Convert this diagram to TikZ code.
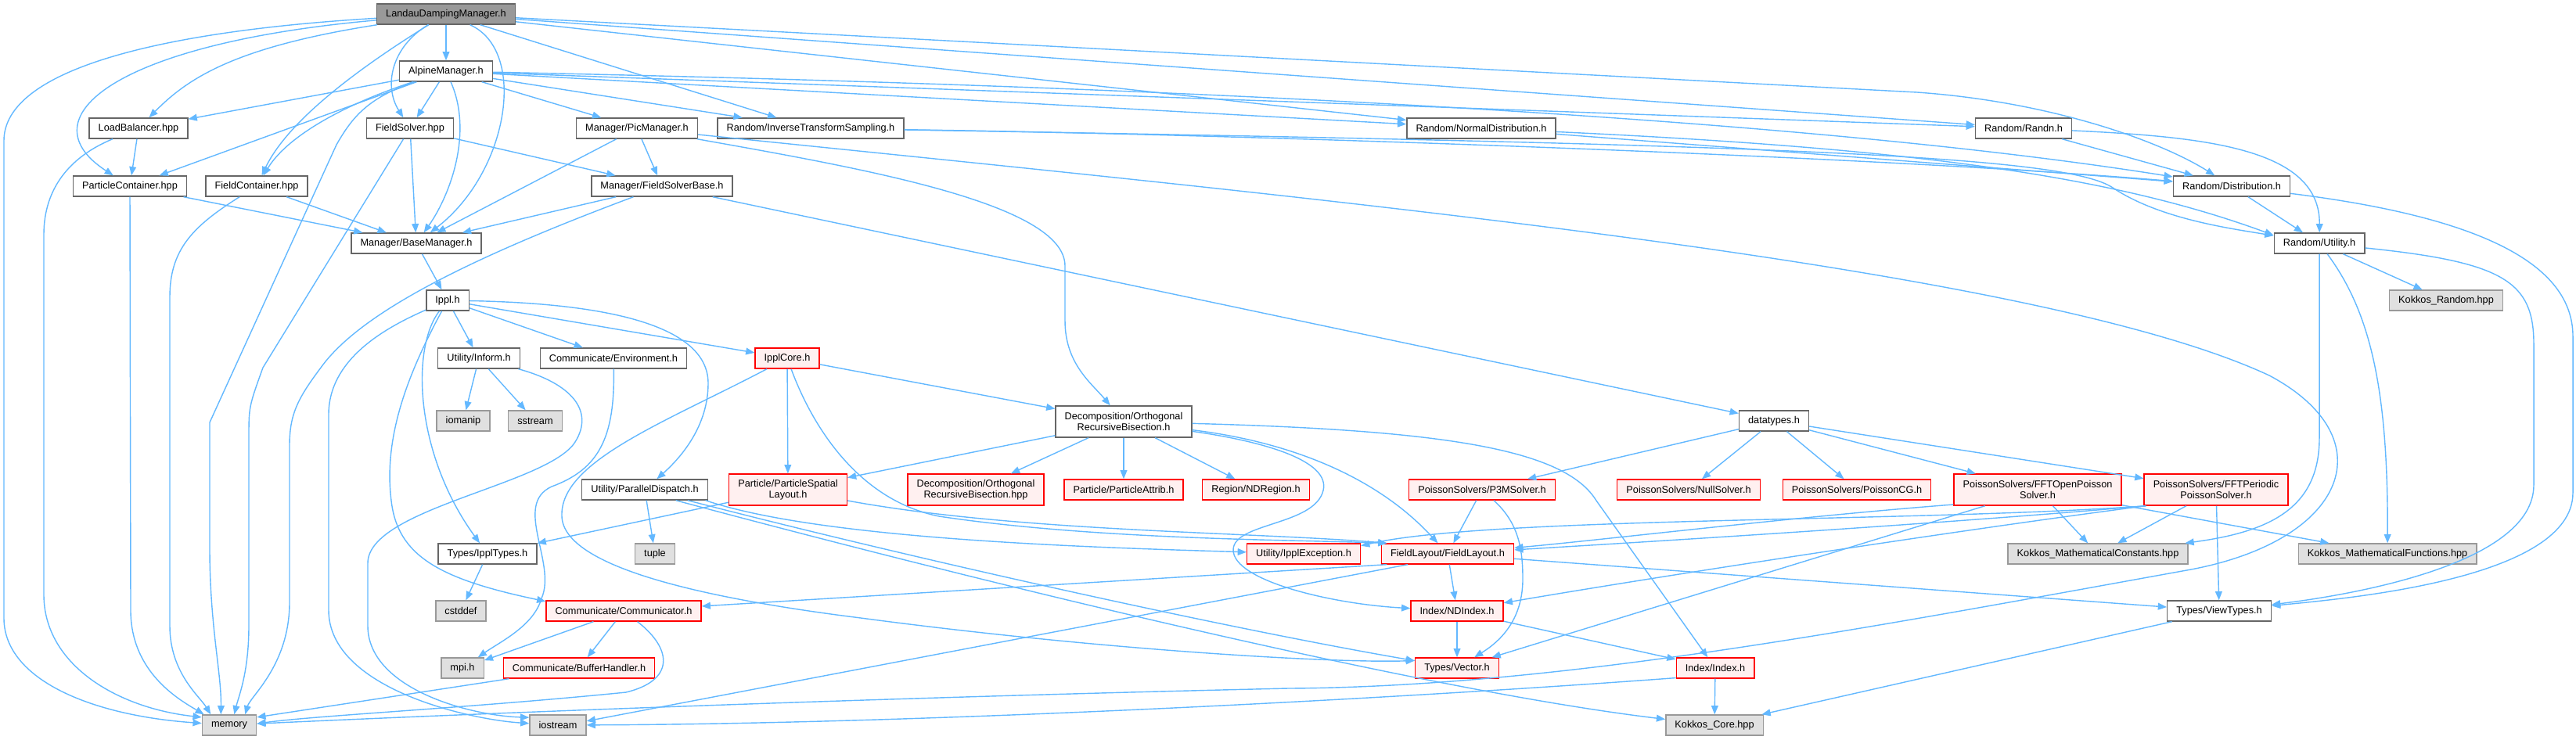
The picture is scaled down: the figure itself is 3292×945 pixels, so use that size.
\documentclass[tikz,border=0pt]{standalone}
\usepackage{fontspec}
\setmainfont{Liberation Sans}
\usetikzlibrary{arrows.meta}

\definecolor{edgeblue}{HTML}{63B8FF}
\definecolor{boxline}{HTML}{666666}
\definecolor{sysline}{HTML}{999999}
\definecolor{sysfill}{HTML}{E0E0E0}
\definecolor{rootfill}{HTML}{999999}
\definecolor{truncfill}{HTML}{FFF0F0}

\tikzset{
  hfile/.style={draw=boxline, fill=white, line width=0.38pt, minimum height=0.26cm,
    inner xsep=3.3pt, inner ysep=0pt, align=center, font=\fontsize{3.62}{4.1}\selectfont},
  rootfile/.style={hfile, fill=rootfill},
  sysfile/.style={hfile, draw=sysline, fill=sysfill},
  truncfile/.style={hfile, draw=red, fill=truncfill},
  twoline/.style={minimum height=0.40cm},
  dep/.style={draw=edgeblue, line width=0.4pt, -{Triangle[length=3.2pt,width=2.5pt]}},
}

\begin{document}
\begin{tikzpicture}[x=0.01cm, y=-0.01cm]
  \useasboundingbox (0,0) rectangle (3292,945);

  % Header files, row by row
  \node[rootfile] (landau) at (570,18) {LandauDampingManager.h};
  \node[hfile] (alpine) at (570,91) {AlpineManager.h};

  \node[hfile] (lbal) at (177,164) {LoadBalancer.hpp};
  \node[hfile] (fsolver) at (524,164) {FieldSolver.hpp};
  \node[hfile] (picmgr) at (814,164) {Manager/PicManager.h};
  \node[hfile] (itsamp) at (1036,164) {Random/InverseTransformSampling.h};
  \node[hfile] (normdist) at (1893,164) {Random/NormalDistribution.h};
  \node[hfile] (randn) at (2586,164) {Random/Randn.h};

  \node[hfile] (pcont) at (166,238) {ParticleContainer.hpp};
  \node[hfile] (fcont) at (328,238) {FieldContainer.hpp};
  \node[hfile] (fsbase) at (846,238) {Manager/FieldSolverBase.h};
  \node[hfile] (distrib) at (2852,238) {Random/Distribution.h};

  \node[hfile] (basemgr) at (532,311) {Manager/BaseManager.h};
  \node[hfile] (rutil) at (2964,311) {Random/Utility.h};

  \node[hfile] (ippl) at (572,384) {Ippl.h};
  \node[sysfile] (krandom) at (3126,384) {Kokkos\_Random.hpp};

  \node[hfile] (inform) at (612,458) {Utility/Inform.h};
  \node[hfile] (environ) at (784,458) {Communicate/Environment.h};
  \node[truncfile] (core) at (1006,458) {IpplCore.h};

  \node[sysfile] (iomanip) at (592,538) {iomanip};
  \node[sysfile] (sstream) at (684,538) {sstream};
  \node[hfile, twoline] (orbh) at (1436,539) {Decomposition/Orthogonal\\RecursiveBisection.h};
  \node[hfile] (datatypes) at (2267,538) {datatypes.h};

  \node[hfile] (pardisp) at (824,626) {Utility/ParallelDispatch.h};
  \node[truncfile, twoline] (pslayout) at (1007,626) {Particle/ParticleSpatial\\Layout.h};
  \node[truncfile, twoline] (orbhpp) at (1247,626) {Decomposition/Orthogonal\\RecursiveBisection.hpp};
  \node[truncfile] (pattrib) at (1436,626) {Particle/ParticleAttrib.h};
  \node[truncfile] (ndregion) at (1605,626) {Region/NDRegion.h};
  \node[truncfile] (p3m) at (1894,626) {PoissonSolvers/P3MSolver.h};
  \node[truncfile] (nullsolver) at (2158,626) {PoissonSolvers/NullSolver.h};
  \node[truncfile] (poissoncg) at (2373,626) {PoissonSolvers/PoissonCG.h};
  \node[truncfile, twoline] (fftopen) at (2604,626) {PoissonSolvers/FFTOpenPoisson\\Solver.h};
  \node[truncfile, twoline] (fftper) at (2832,626) {PoissonSolvers/FFTPeriodic\\PoissonSolver.h};

  \node[hfile] (ippltypes) at (623,708) {Types/IpplTypes.h};
  \node[sysfile] (tuple) at (837,708) {tuple};
  \node[truncfile] (ipplexc) at (1666,708) {Utility/IpplException.h};
  \node[truncfile] (flayout) at (1850,708) {FieldLayout/FieldLayout.h};
  \node[sysfile] (mconst) at (2681,708) {Kokkos\_MathematicalConstants.hpp};
  \node[sysfile] (mfunc) at (3051,708) {Kokkos\_MathematicalFunctions.hpp};

  \node[sysfile] (cstddef) at (589,781) {cstddef};
  \node[truncfile] (comm) at (797,781) {Communicate/Communicator.h};
  \node[truncfile] (ndindex) at (1862,781) {Index/NDIndex.h};
  \node[hfile] (viewtypes) at (2836,781) {Types/ViewTypes.h};

  \node[sysfile] (mpi) at (591,854) {mpi.h};
  \node[truncfile] (bufh) at (740,854) {Communicate/BufferHandler.h};
  \node[truncfile] (vector) at (1862,854) {Types/Vector.h};
  \node[truncfile] (index) at (2192,854) {Index/Index.h};

  \node[sysfile] (memory) at (293,927) {memory};
  \node[sysfile] (iostream) at (713,927) {iostream};
  \node[sysfile] (kcore) at (2191,927) {Kokkos\_Core.hpp};

  % Includes of the root file
  \draw[dep] (landau) .. controls (200,40) and (5,90) .. (5,180) -- (5,790) .. controls (5,870) and (120,915) .. (memory);
  \draw[dep] (landau) .. controls (150,55) and (30,150) .. (pcont);
  \draw[dep] (landau) .. controls (300,60) and (240,100) .. (lbal);
  \draw[dep] (landau) .. controls (470,80) and (370,150) .. (fcont);
  \draw[dep] (landau) .. controls (500,60) and (490,110) .. (fsolver);
  \draw[dep] (landau) -- (alpine);
  \draw[dep] (landau) .. controls (675,65) and (650,220) .. (basemgr);
  \draw[dep] (landau) -- (itsamp);
  \draw[dep] (landau) -- (normdist);
  \draw[dep] (landau) -- (randn);
  \draw[dep] (landau) -- (2450,118) .. controls (2620,130) and (2760,180) .. (distrib);

  % AlpineManager.h
  \draw[dep] (alpine) -- (lbal);
  \draw[dep] (alpine) -- (pcont);
  \draw[dep] (alpine) .. controls (450,130) and (370,170) .. (fcont);
  \draw[dep] (alpine) .. controls (470,125) and (450,150) .. (430,185) -- (268,540) -- (268,700) .. controls (268,800) and (283,860) .. (memory.128);
  \draw[dep] (alpine) -- (fsolver);
  \draw[dep] (alpine) .. controls (605,170) and (575,250) .. (basemgr);
  \draw[dep] (alpine) -- (picmgr);
  \draw[dep] (alpine) -- (itsamp);
  \draw[dep] (alpine) -- (normdist);
  \draw[dep] (alpine) -- (randn);
  \draw[dep] (alpine) .. controls (1500,110) and (2300,150) .. (distrib);

  % Random headers
  \draw[dep] (itsamp) .. controls (1600,172) and (2400,200) .. (distrib);
  \draw[dep] (itsamp) .. controls (2300,185) and (2640,200) .. (2700,240) .. controls (2760,280) and (2850,292) .. (rutil);
  \draw[dep] (normdist) -- (distrib);
  \draw[dep] (normdist) .. controls (2450,190) and (2700,225) .. (rutil.170);
  \draw[dep] (randn) -- (distrib);
  \draw[dep] (randn) .. controls (2820,175) and (2965,190) .. (rutil);
  \draw[dep] (distrib) -- (rutil);
  \draw[dep] (distrib) .. controls (3150,275) and (3288,330) .. (3288,430) -- (3288,630) .. controls (3288,740) and (3000,765) .. (viewtypes);
  \draw[dep] (rutil) -- (krandom);
  \draw[dep] (rutil) -- (2964,560) .. controls (2964,650) and (2900,680) .. (mconst.7.5);
  \draw[dep] (rutil) .. controls (3030,400) and (3052,500) .. (mfunc);
  \draw[dep] (rutil) .. controls (3200,335) and (3238,360) .. (3238,440) -- (3238,620) .. controls (3238,720) and (3010,760) .. (viewtypes);

  % Containers and solvers
  \draw[dep] (lbal) -- (pcont);
  \draw[dep] (lbal) .. controls (90,200) and (56,240) .. (56,300) -- (56,760) .. controls (56,850) and (150,905) .. (memory.164);
  \draw[dep] (pcont) -- (basemgr);
  \draw[dep] (pcont) -- (167,780) .. controls (167,860) and (230,895) .. (memory.157);
  \draw[dep] (fcont) -- (basemgr);
  \draw[dep] (fcont) .. controls (245,290) and (217,320) .. (217,380) -- (217,800) .. controls (217,860) and (255,890) .. (memory.150);
  \draw[dep] (fsolver) -- (basemgr);
  \draw[dep] (fsolver) -- (fsbase);
  \draw[dep] (fsolver) -- (336,470) .. controls (318,520) .. (318,560) -- (318,800) .. controls (318,860) and (305,890) .. (memory.65);
  \draw[dep] (picmgr) -- (basemgr);
  \draw[dep] (picmgr) -- (fsbase);
  \draw[dep] (picmgr) .. controls (1100,215) and (1361,260) .. (1361,340) -- (1361,410) .. controls (1361,465) and (1395,490) .. (orbh);
  \draw[dep] (picmgr) .. controls (1700,255) and (2600,340) .. (2900,480) .. controls (3050,560) and (3000,690) .. (2800,728) .. controls (2400,800) and (2000,878) .. (1646,880) .. controls (1200,890) and (700,908) .. (memory.3);
  \draw[dep] (fsbase) -- (basemgr);
  \draw[dep] (fsbase) .. controls (600,330) and (460,400) .. (410,470) .. controls (380,510) and (370,530) .. (370,570) -- (370,770) .. controls (370,850) and (320,890) .. (memory.34);
  \draw[dep] (fsbase) -- (datatypes);
  \draw[dep] (basemgr) -- (ippl);

  % Ippl.h
  \draw[dep] (ippl) -- (inform);
  \draw[dep] (ippl) -- (environ);
  \draw[dep] (ippl) -- (core);
  \draw[dep] (ippl) .. controls (790,388) and (905,420) .. (905,490) .. controls (905,545) and (870,585) .. (pardisp);
  \draw[dep] (ippl) .. controls (525,445) and (530,580) .. (ippltypes);
  \draw[dep] (ippl) .. controls (520,480) and (490,560) .. (500,640) .. controls (508,710) and (560,740) .. (comm.173);
  \draw[dep] (ippl) .. controls (490,420) and (420,460) .. (420,530) -- (420,780) .. controls (420,880) and (600,920) .. (iostream);
  \draw[dep] (inform) -- (iomanip);
  \draw[dep] (inform) -- (sstream);
  \draw[dep] (inform) .. controls (730,490) and (760,525) .. (735,565) .. controls (700,620) and (470,650) .. (470,720) -- (470,800) .. controls (470,880) and (600,915) .. (iostream.165);
  \draw[dep] (environ) .. controls (786,560) and (765,600) .. (705,622) .. controls (655,645) and (712,720) .. (692,765) .. controls (682,800) and (640,820) .. (mpi);

  % IpplCore.h and the decomposition
  \draw[dep] (core) -- (orbh);
  \draw[dep] (core) -- (pslayout);
  \draw[dep] (core) .. controls (1040,550) and (1100,640) .. (1200,660) .. controls (1400,690) and (1650,690) .. (flayout.170);
  \draw[dep] (core) .. controls (850,540) and (715,590) .. (718,660) .. controls (720,725) and (900,765) .. (1100,790) .. controls (1400,830) and (1700,848) .. (vector.170);
  \draw[dep] (orbh) -- (pslayout);
  \draw[dep] (orbh) -- (orbhpp);
  \draw[dep] (orbh) -- (pattrib);
  \draw[dep] (orbh) -- (ndregion);
  \draw[dep] (orbh) .. controls (1650,565) and (1760,610) .. (flayout);
  \draw[dep] (orbh) .. controls (1850,550) and (2000,575) .. (2040,640) -- (index);
  \draw[dep] (orbh) .. controls (1620,565) and (1700,590) .. (1691,627) .. controls (1680,672) and (1576,668) .. (1576,703) .. controls (1576,742) and (1700,772) .. (ndindex);
  \draw[dep] (pslayout) .. controls (1300,680) and (1600,680) .. (flayout.170);
  \draw[dep] (pslayout) -- (ippltypes);

  % Utility headers
  \draw[dep] (pardisp) -- (tuple);
  \draw[dep] (pardisp.-10) .. controls (1050,690) and (1400,700) .. (ipplexc);
  \draw[dep] (pardisp.-14) .. controls (1150,710) and (1550,800) .. (vector);
  \draw[dep] (pardisp.-19) .. controls (1200,730) and (1800,880) .. (kcore);
  \draw[dep] (ippltypes) -- (cstddef);
  \draw[dep] (comm) -- (mpi);
  \draw[dep] (comm) -- (bufh);
  \draw[dep] (comm) .. controls (860,830) and (862,870) .. (800,885) .. controls (600,905) and (400,915) .. (memory.3);
  \draw[dep] (bufh) -- (memory.16);

  % Poisson solvers
  \draw[dep] (datatypes) -- (p3m);
  \draw[dep] (datatypes) -- (nullsolver);
  \draw[dep] (datatypes) -- (poissoncg);
  \draw[dep] (datatypes) -- (fftopen);
  \draw[dep] (datatypes) -- (fftper);
  \draw[dep] (p3m) -- (flayout);
  \draw[dep] (p3m) .. controls (1940,668) and (1946,700) .. (1946,740) .. controls (1946,790) and (1920,818) .. (vector);
  \draw[dep] (fftopen.190) .. controls (2300,660) and (2050,690) .. (flayout);
  \draw[dep] (fftopen) -- (vector);
  \draw[dep] (fftopen) -- (mconst);
  \draw[dep] (fftopen) -- (mfunc);
  \draw[dep] (fftper.193) .. controls (2500,668) and (2150,690) .. (flayout);
  \draw[dep] (fftper.193) .. controls (2450,668) and (1900,660) .. (ipplexc.8);
  \draw[dep] (fftper.193) .. controls (2500,678) and (2100,740) .. (ndindex);
  \draw[dep] (fftper) -- (mconst);
  \draw[dep] (fftper) -- (viewtypes);

  % Field layout and index types
  \draw[dep] (flayout) -- (ndindex);
  \draw[dep] (flayout) -- (viewtypes);
  \draw[dep] (flayout.190) -- (comm);
  \draw[dep] (flayout.195) -- (iostream.8);
  \draw[dep] (ndindex) -- (vector);
  \draw[dep] (ndindex) -- (index);
  \draw[dep] (index) -- (kcore);
  \draw[dep] (index.194) .. controls (1800,892) and (1200,925) .. (iostream);
  \draw[dep] (viewtypes) -- (kcore);

\end{tikzpicture}
\end{document}
